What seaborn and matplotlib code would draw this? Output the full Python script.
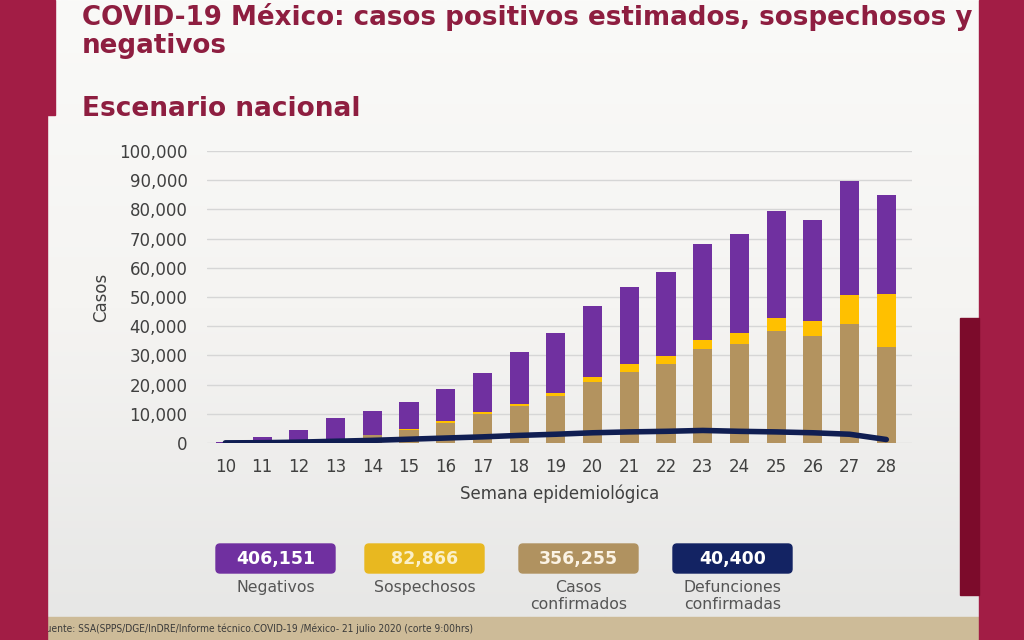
import numpy as np
import pandas as pd
import seaborn as sns
import matplotlib.pyplot as plt
from matplotlib.patches import Rectangle, FancyBboxPatch

# semanas epidemiologicas y casos por semana
weeks = [str(w) for w in range(10, 29)]
confirmados = [50, 200, 500, 1000, 2600, 4400, 7000, 10100, 12700, 16000,
               20800, 24300, 27200, 32300, 33800, 38200, 36500, 40600, 33000]
sospechosos = [20, 50, 100, 200, 300, 300, 400, 400, 600, 1200,
               1800, 2800, 2500, 3100, 3900, 4500, 5400, 10000, 18000]
negativos = [250, 1850, 4000, 7300, 8000, 9200, 11000, 13500, 17800, 20400,
             24300, 26300, 28900, 32600, 33800, 36600, 34400, 39200, 33900]
defunciones = [50, 100, 300, 600, 900, 1300, 1700, 2100, 2600, 3000,
               3500, 3800, 4000, 4300, 4000, 3800, 3500, 3000, 1200]
y_ticks = list(range(0, 100001, 10000))

resumen_valores = ["406,151", "82,866", "356,255", "40,400"]
resumen_etiquetas = ["Negativos", "Sospechosos", "Casos\nconfirmados",
                     "Defunciones\nconfirmadas"]

PURPLE = "#7030A0"
YELLOW = "#FFC000"
TAN = "#B3935F"
NAVY = "#101E52"
CRIMSON = "#A21D45"
TITLE = "#8E1E40"


def main():
    sns.set_theme(style="white")
    plt.rcParams['font.family'] = ['DejaVu Sans']

    W, H = 1024, 640
    fig = plt.figure(figsize=(10.24, 6.4), dpi=100)

    # fondo en coordenadas de pixel
    bg = fig.add_axes([0, 0, 1, 1], zorder=0)
    bg.axis("off")

    grad = np.linspace(0, 1, 256).reshape(-1, 1)
    cmap = sns.blend_palette(["#FAFAF8", "#F5F4F2", "#E7E7E6"], as_cmap=True)
    bg.imshow(grad, extent=(47, 979, 617, 0), cmap=cmap, aspect="auto", zorder=0)
    bg.set_xlim(0, W)
    bg.set_ylim(H, 0)

    bg.add_patch(Rectangle((47, 617), 932, 23, color="#CDBB98", zorder=1))
    bg.text(41, 629, "Fuente: SSA(SPPS/DGE/InDRE/Informe técnico.COVID-19 /México- 21 julio 2020 (corte 9:00hrs)",
            fontsize=7.3, fontstretch="condensed", color="#3A3A3A",
            va="center", ha="left", zorder=2)

    bg.add_patch(Rectangle((0, 0), 47, H, color=CRIMSON, zorder=3))
    bg.add_patch(Rectangle((0, 0), 55, 115, color=CRIMSON, zorder=3))
    bg.add_patch(Rectangle((979, 0), 45, H, color=CRIMSON, zorder=3))
    bg.add_patch(Rectangle((960, 318), 19, 277, color="#7C0B2B", zorder=3))

    bg.text(82, 25, "COVID-19 México: casos positivos estimados, sospechosos y",
            fontsize=18.8, fontweight="bold", color=TITLE, va="baseline")
    bg.text(82, 53, "negativos", fontsize=18.8, fontweight="bold",
            color=TITLE, va="baseline")
    bg.text(82, 116, "Escenario nacional", fontsize=19, fontweight="bold",
            color=TITLE, va="baseline")

    box_x = [216, 365, 519, 673]
    box_colors = [PURPLE, "#E8B820", "#B09260", "#132363"]
    text_colors = ["white", "#FBF0C8", "#FBF3E4", "white"]
    for x0, c, tc, val, lab in zip(box_x, box_colors, text_colors,
                                   resumen_valores, resumen_etiquetas):
        bg.add_patch(FancyBboxPatch((x0 + 3, 547), 113, 23,
                                    boxstyle="round,pad=3,rounding_size=4",
                                    color=c, zorder=2))
        bg.text(x0 + 59.5, 559, val, fontsize=12.5, fontweight="bold",
                color=tc, ha="center", va="center", zorder=3)
        bg.text(x0 + 59.5, 580, lab, fontsize=11.3, color="#555555",
                ha="center", va="top", linespacing=1.2, zorder=3)

    # grafica de barras apiladas
    ax = fig.add_axes([207 / W, 1 - 443 / H, 705 / W, 292 / H], zorder=1)
    ax.patch.set_alpha(0)

    df = pd.DataFrame({"semana": weeks, "conf": confirmados,
                       "sosp": sospechosos, "neg": negativos})
    df["conf_sosp"] = df["conf"] + df["sosp"]
    df["total"] = df["conf_sosp"] + df["neg"]

    for col, c in [("total", PURPLE), ("conf_sosp", YELLOW), ("conf", TAN)]:
        sns.barplot(data=df, x="semana", y=col, color=c, saturation=1,
                    width=0.52, order=weeks, linewidth=0, edgecolor="none",
                    ax=ax)
    sns.lineplot(x=np.arange(len(weeks)), y=defunciones, color=NAVY,
                 linewidth=4, ax=ax)
    ax.lines[-1].set_solid_capstyle("round")

    ax.set_ylim(0, 100000)
    ax.set_xlim(-0.5, 18.7)
    ax.set_yticks(y_ticks)
    ax.yaxis.set_major_formatter(lambda v, p: f"{int(v):,}")
    ax.set_axisbelow(True)
    ax.grid(axis="y", color="#D6D6D6", linewidth=1)
    sns.despine(ax=ax, left=True, bottom=True)
    ax.tick_params(axis="y", length=0, pad=14, labelsize=12, labelcolor="#404040")
    ax.tick_params(axis="x", length=0, pad=11, labelsize=12, labelcolor="#404040")

    ax.set_ylabel("Casos", fontsize=12, color="#404040")
    ax.yaxis.set_label_coords(-0.138, 0.5)
    ax.set_xlabel("Semana epidemiológica", fontsize=12, color="#404040")
    ax.xaxis.set_label_coords(0.5, -0.142)

    fig.savefig("out.png", dpi=100)


if __name__ == "__main__":
    main()
